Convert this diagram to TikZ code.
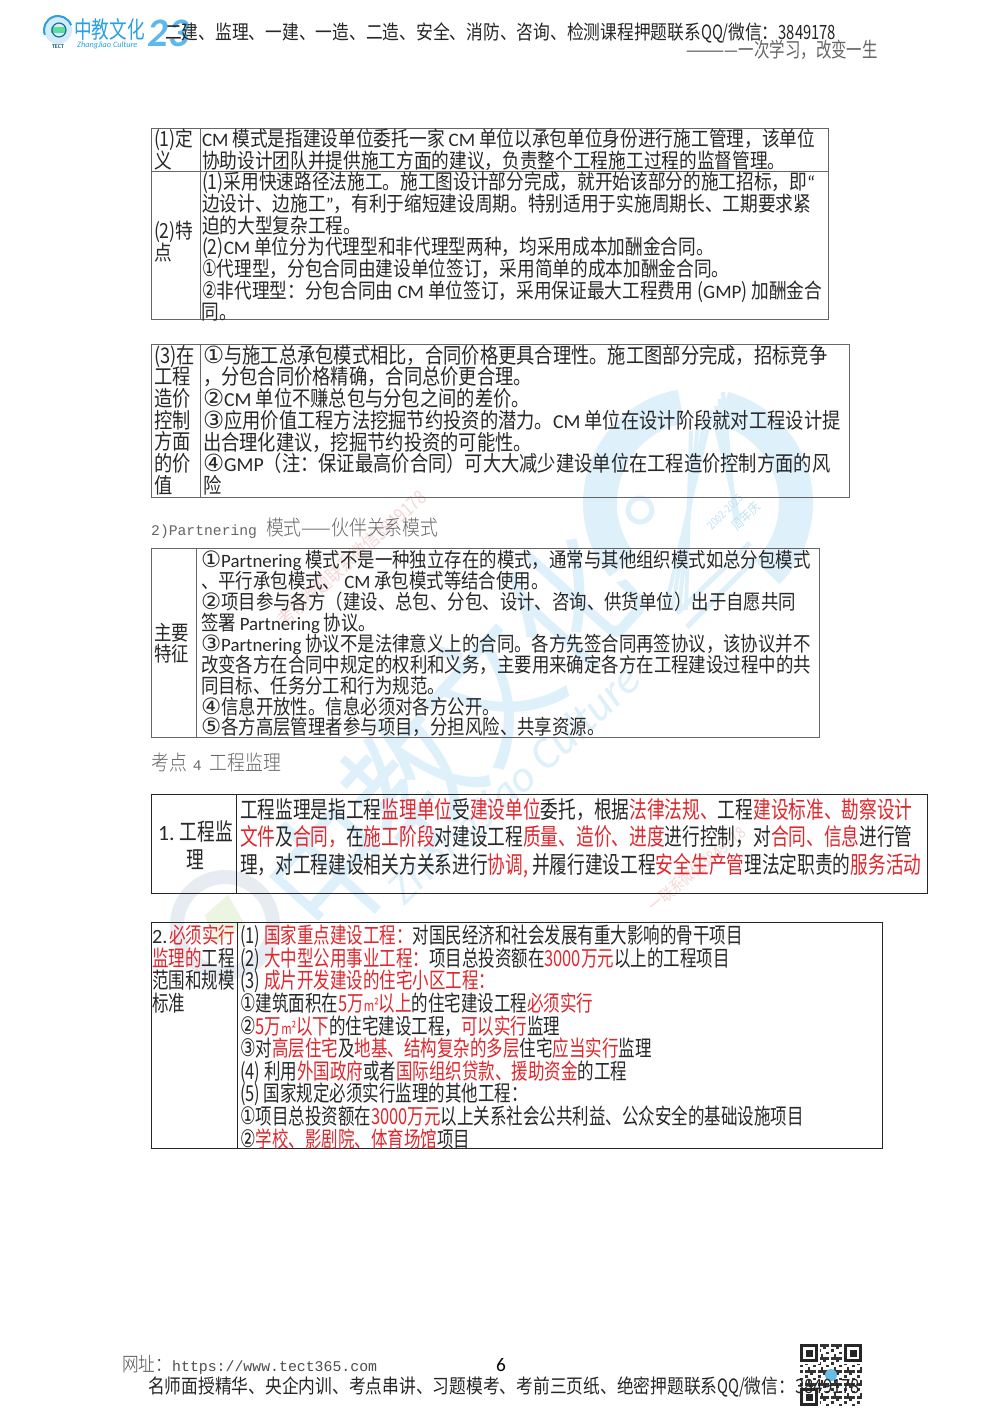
\documentclass[tikz,border=0pt]{standalone}
\usepackage{fontspec}
\usetikzlibrary{positioning}
\setmainfont{Noto Sans CJK SC}
\newfontfamily\cjkb[FakeStretch=0.85]{Noto Sans CJK SC}
\newfontfamily\cjkc[FakeStretch=0.75]{Noto Sans CJK SC}
\newfontfamily\cjkl[FakeStretch=0.85]{Noto Sans CJK SC Light}
\newfontfamily\latf[Scale=0.92]{Carlito}
\newfontfamily\monf{Liberation Mono}
\newfontfamily\circw[Scale=1.1]{DejaVu Sans}
\newfontfamily\circn[Scale=1.1,FakeStretch=0.72]{DejaVu Sans}
\newcommand{\latn}[1]{{\latf #1}}
\newcommand{\mont}[1]{{\monf\fontsize{14.7}{14.7}\selectfont #1}}
\newcommand{\cw}[1]{{\circw #1}}
\newcommand{\cn}[1]{{\circn #1}}
\newcommand{\rd}[1]{{\color{markred}#1}}
\newcommand{\sqm}{{\fontsize{15}{15}\selectfont m²}}
\newcommand{\tightlines}{\lineskiplimit=-100pt\relax}
\definecolor{markred}{RGB}{222,40,45}
\definecolor{inkdark}{RGB}{40,40,40}
\definecolor{wmblue}{RGB}{222,240,250}
\definecolor{wmgrey}{RGB}{230,236,242}
\definecolor{wmgreen}{RGB}{236,244,226}
\definecolor{wmred}{RGB}{246,214,214}
\definecolor{logoblue}{RGB}{40,160,225}
\tikzset{
  cellbox/.style={rectangle, anchor=north west, draw=black!60, line width=0.8pt, inner sep=0pt, outer sep=0pt},
  celltext/.style={inner sep=0pt, outer sep=0pt, align=left, text=inkdark},
  textb/.style={celltext, font=\cjkb\fontsize{#1}{21.7}\selectfont\tightlines},
  textc/.style={celltext, font=\cjkc\fontsize{22}{22.6}\selectfont\tightlines},
  textd/.style={celltext, font=\cjkc\fontsize{23.6}{27.8}\selectfont\tightlines},
  wmtext/.style={inner sep=0pt, text=wmblue},
  note/.style={inner sep=0pt, anchor=west, text=black!60, font=\cjkl\fontsize{21}{21}\selectfont},
}
\begin{document}
\begin{tikzpicture}[x=1pt, y=1pt]
    \useasboundingbox (0,0) rectangle (1000,-1414);
    \fill [white] (0,0) rectangle (1000,-1414);

    % watermarks
    \node (wmword) [wmtext, rotate=48, font=\cjkb\fontsize{140}{140}\selectfont] at (450,-735) {中教文化};
    \node (wmlatin) [wmtext, rotate=43, font=\itshape\latf\fontsize{49}{49}\selectfont] at (516,-786) {ZhongJiao Culture};
    \draw [wmblue, line width=34pt] (698,-503) ++(220:98) arc (220:100:98);
    \draw [wmblue, line width=34pt] (698,-503) ++(75:98) arc (75:-45:98);
    \fill [white] (640,-510) circle [radius=23pt];
    \draw [wmblue, line width=5pt] (640,-510) circle [radius=12pt];
    \foreach \sx in {0,7,14,21} {
      \draw [wmblue, line width=4pt] (723-\sx*0.5,-392-\sx) -- (735+\sx*0.2,-520);
      \draw [wmblue, line width=4pt] (712-\sx,-410-\sx) -- (665+\sx,-610);
    }
    \draw [wmblue, line width=5pt] (677,-613) -- (750,-543);
    \draw [wmblue, line width=5pt] (687,-627) -- (757,-557);
    \node (wmyear) [wmtext, rotate=45, text=logoblue!30, font=\cjkb\fontsize{11}{11}\selectfont] at (725,-512) {2002-2025};
    \node (wmcheer) [wmtext, rotate=45, text=logoblue!30, font=\cjkb\fontsize{13}{13}\selectfont] at (746,-516) {周年庆};
    \draw [wmgrey, line width=14pt] (225,-925) circle [radius=48pt];
    \fill [wmgreen] (205,-915) -- (228,-895) -- (245,-925) -- (215,-945) -- cycle;
    \node (wmreda) [wmtext, rotate=42, text=wmred, font=\cjkb\fontsize{19}{19}\selectfont] at (352,-558) {考前押题联系微信3849178};
    \node (wmredb) [wmtext, rotate=40, text=wmred, font=\cjkb\fontsize{16}{16}\selectfont] at (697,-869) {一联系微信3849178};

    % header
    \fill [logoblue!20] (58,-30) circle [radius=14pt];
    \draw [logoblue, line width=2pt] (58,-30) ++(200:14) arc (200:20:14);
    \fill [logoblue!50!green!70] (51,-33) rectangle (66,-27);
    \draw [logoblue!70!black, line width=1.2pt] (59,-30) circle [radius=7pt];
    \node (logotect) [inner sep=0pt, text=logoblue!60!black, font=\bfseries\latf\fontsize{6.5}{6.5}\selectfont] at (58,-47) {TECT};
    \node (logoword) [inner sep=0pt, anchor=west, text=logoblue, font=\cjkc\fontsize{23.5}{25}\selectfont] at (74,-30) {中教文化};
    \node (logolatin) [inner sep=0pt, anchor=west, text=logoblue, font=\itshape\latf\fontsize{9}{9}\selectfont] at (77,-45) {ZhangJiao Culture};
    \node (logoyear) [inner sep=0pt, text=logoblue!75, font=\bfseries\itshape\latf\fontsize{44}{44}\selectfont] at (168,-33) {23};
    \node (headline) [inner sep=0pt, anchor=west, text=black!85, font=\cjkb\fontsize{19.7}{22}\selectfont] at (165,-33) {二建、监理、一建、一造、二造、安全、消防、咨询、检测课程押题联系{\cjkc QQ/}微信：{\cjkc 3849178}};
    \node (motto) [inner sep=0pt, anchor=east, text=black!60, font=\cjkc\fontsize{20.6}{22}\selectfont] at (878,-50) {————一次学习，改变一生};

    % table on the definition
    \node (deflabel) [cellbox, minimum width=49pt, minimum height=43pt] at (151,-128) {};
    \node (defcell) [cellbox, minimum width=628pt, minimum height=43pt] at (200,-128) {};
    \node (traitlabel) [cellbox, minimum width=49pt, minimum height=148pt] at (151,-171) {};
    \node (traitcell) [cellbox, minimum width=628pt, minimum height=148pt] at (200,-171) {};
    \node (deflabeltext) [textb=20.8, below right=1pt and 3pt of deflabel.north west] {(1)定\\义};
    \node (deftext) [textb=20.8, below right=1pt and 2pt of defcell.north west] {\latn{CM} 模式是指建设单位委托一家 \latn{CM} 单位以承包单位身份进行施工管理，该单位\\协助设计团队并提供施工方面的建议，负责整个工程施工过程的监督管理。};
    \node (traitlabeltext) [textb=20.8, below right=50pt and 3pt of traitlabel.north west] {(2)特\\点};
    \node (traittext) [textb=20.8, below right=1pt and 2pt of traitcell.north west] {(1)采用快速路径法施工。施工图设计部分完成，就开始该部分的施工招标，即\latn{“}\\边设计、边施工\latn{”}，有利于缩短建设周期。特别适用于实施周期长、工期要求紧\\迫的大型复杂工程。\\(2)\latn{CM} 单位分为代理型和非代理型两种，均采用成本加酬金合同。\\\cn{①}代理型，分包合同由建设单位签订，采用简单的成本加酬金合同。\\\cn{②}非代理型：分包合同由 \latn{CM} 单位签订，采用保证最大工程费用 (\latn{GMP}) 加酬金合\\同。};

    % table on the cost value
    \node (costlabel) [cellbox, minimum width=49pt, minimum height=153pt] at (151,-344) {};
    \node (costcell) [cellbox, minimum width=649pt, minimum height=153pt] at (200,-344) {};
    \node (costlabeltext) [textb=21.5, below right=1pt and 3pt of costlabel.north west] {(3)在\\工程\\造价\\控制\\方面\\的价\\值};
    \node (costtext) [textb=21.5, below right=1pt and 3pt of costcell.north west] {\cw{①}与施工总承包模式相比，合同价格更具合理性。施工图部分完成，招标竞争\\，分包合同价格精确，合同总价更合理。\\\cw{②}\latn{CM} 单位不赚总包与分包之间的差价。\\\cw{③}应用价值工程方法挖掘节约投资的潜力。\latn{CM} 单位在设计阶段就对工程设计提\\出合理化建议，挖掘节约投资的可能性。\\\cw{④}\latn{GMP}（注：保证最高价合同）可大大减少建设单位在工程造价控制方面的风\\险};

    \node (partnote) [note] at (151,-528) {\mont{2)Partnering}\hspace{9pt}模式——伙伴关系模式};

    % table on partnering
    \node (partlabel) [cellbox, minimum width=45pt, minimum height=189pt] at (151,-548) {};
    \node (partcell) [cellbox, minimum width=623pt, minimum height=189pt] at (196,-548) {};
    \node (partlabeltext) [textb=20.5, below right=75pt and 3pt of partlabel.north west] {主要\\特征};
    \node (parttext) [textb=20.5, below right=2pt and 5pt of partcell.north west, font=\cjkb\fontsize{20.5}{20.95}\selectfont\tightlines] {\cw{①}\latn{Partnering} 模式不是一种独立存在的模式，通常与其他组织模式如总分包模式\\、平行承包模式、 \latn{CM} 承包模式等结合使用。\\\cw{②}项目参与各方（建设、总包、分包、设计、咨询、供货单位）出于自愿共同\\签署 \latn{Partnering} 协议。\\\cw{③}\latn{Partnering} 协议不是法律意义上的合同。各方先签合同再签协议，该协议并不\\改变各方在合同中规定的权利和义务，主要用来确定各方在工程建设过程中的共\\同目标、任务分工和行为规范。\\\cw{④}信息开放性。信息必须对各方公开。\\\cw{⑤}各方高层管理者参与项目，分担风险、共享资源。};

    \node (supnote) [note] at (151,-763) {考点\hspace{6pt}\mont{4}\hspace{8pt}工程监理};

    % table on supervision
    \node (suplabel) [cellbox, draw=black!85, line width=1pt, minimum width=85pt, minimum height=99pt] at (151,-794) {};
    \node (supcell) [cellbox, draw=black!85, line width=1pt, minimum width=691pt, minimum height=99pt] at (236,-794) {};
    \node (suplabeltext) [textd, align=center, below right=27pt and 7pt of suplabel.north west] {\latn{1.} 工程监\\理};
    \node (suptext) [textd, below right=4pt and 4pt of supcell.north west] {工程监理是指工程\rd{监理单位}受\rd{建设单位}委托，根据\rd{法律法规、}工程\rd{建设标准、勘察设计}\\\rd{文件}及\rd{合同，}在\rd{施工阶段}对建设工程\rd{质量、造价、进度}进行控制，对\rd{合同、信息}进行管\\理，对工程建设相关方关系进行\rd{协调,} 并履行建设工程\rd{安全生产管}理法定职责的\rd{服务活动}};

    % table on the scope
    \node (scopelabel) [cellbox, draw=black!85, minimum width=86pt, minimum height=226pt] at (151,-922) {};
    \node (scopecell) [cellbox, draw=black!85, minimum width=645pt, minimum height=226pt] at (237,-922) {};
    \node (scopelabeltext) [textc, below right=3pt and 1pt of scopelabel.north west] {\latn{2.}\hspace{2pt}\rd{必须实行}\\\rd{监理的}工程\\范围和规模\\标准};
    \node (scopetext) [textc, below right=3pt and 3pt of scopecell.north west] {(1) \rd{国家重点建设工程：}对国民经济和社会发展有重大影响的骨干项目\\(2) \rd{大中型公用事业工程：}项目总投资额在\rd{3000万元}以上的工程项目\\(3) \rd{成片开发建设的住宅小区工程：}\\\cn{①}建筑面积在\rd{5万\sqm 以上}的住宅建设工程\rd{必须实行}\\\cn{②}\rd{5万\sqm 以下}的住宅建设工程，\rd{可以实行}监理\\\cn{③}对\rd{高层住宅}及\rd{地基、结构复杂的多层}住宅\rd{应当实行}监理\\(4) 利用\rd{外国政府}或者\rd{国际组织贷款、援助资金}的工程\\(5) 国家规定必须实行监理的其他工程：\\\cn{①}项目总投资额在\rd{3000万元}以上关系社会公共利益、公众安全的基础设施项目\\\cn{②}\rd{学校、影剧院、体育场馆}项目};

    % footer
    \node (website) [note, text=black!70, font=\cjkl\fontsize{19.6}{21}\selectfont] at (122,-1365) {网址：{\monf\fontsize{14.85}{14.85}\selectfont https://www.tect365.com}};
    \node (pagenum) [inner sep=0pt, font=\latf\fontsize{21}{21}\selectfont] at (501,-1365) {6};
    \foreach \i in {0,...,23} {
      \foreach \j in {0,...,23} {
        \pgfmathsetmacro{\qrval}{mod(\i*\i*7+\j*\j*5+\i*\j*3+\i+2*\j,5)}
        \ifdim \qrval pt<2pt
          \fill [black!80] (800+\i*2.6,-1344-\j*2.6) rectangle ++(2.6,-2.6);
        \fi
      }
    }
    \foreach \qx/\qy in {800/-1344, 844/-1344, 800/-1388} {
      \fill [white] (\qx-1,\qy+1) rectangle ++(21,-21);
      \draw [black!85, line width=2.5pt] (\qx+1.5,\qy-1.5) rectangle ++(15,-15);
      \fill [black!85] (\qx+5.5,\qy-5.5) rectangle ++(7,-7);
    }
    \fill [logoblue!70] (831,-1375) circle [radius=6pt];
    \node (adline) [inner sep=0pt, anchor=west, text=black!85, font=\cjkb\fontsize{19.7}{22}\selectfont] at (148,-1387) {名师面授精华、央企内训、考点串讲、习题模考、考前三页纸、绝密押题联系{\cjkc QQ/}微信：3849178};
\end{tikzpicture}
\end{document}
